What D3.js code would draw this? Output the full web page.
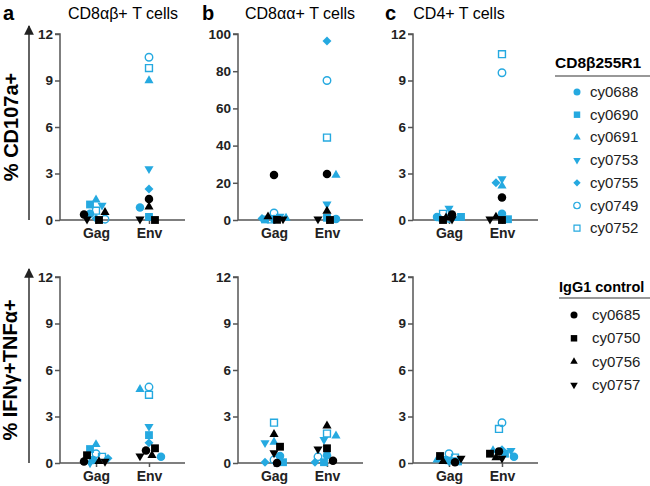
<!DOCTYPE html>
<html><head><meta charset="utf-8">
<script src="https://cdn.jsdelivr.net/npm/d3@7"></script>
<style>body{margin:0;background:#fff}svg{display:block;font-family:"Liberation Sans",Arial,sans-serif}</style>
</head><body><svg id="c" width="650" height="486"></svg>
<script>
// ---------------- data ----------------
const groups = ["Gag", "Env"];
const animals = ["cy0688","cy0690","cy0691","cy0753","cy0755","cy0749","cy0752","cy0685","cy0750","cy0756","cy0757"];
const cohorts = ["CD8β255R1","CD8β255R1","CD8β255R1","CD8β255R1","CD8β255R1","CD8β255R1","CD8β255R1","IgG1 control","IgG1 control","IgG1 control","IgG1 control"];
const shapes = ["circle","square","triangle","down","diamond","circle","square","circle","square","triangle","down"];
const open = [false,false,false,false,false,true,true,false,false,false,false];
const cohortNames = ["CD8β255R1","IgG1 control"];
const panelTitles = ["CD8αβ+ T cells","CD8αα+ T cells","CD4+ T cells"];
const panelLetters = ["a","b","c"];
const rowLabels = ["% CD107a+","% IFNγ+TNFα+"];
const ticksSmall = [0,3,6,9,12];
const ticksLarge = [0,20,40,60,80,100];

// CD107a+ (top row)
const cd107_ab_gag = [0.4, 1.0, 1.3, 0.95, 0.1, 0.05, 0.6, 0.35, 0.0, 0.5, 0.05];
const cd107_ab_env = [0.8, 0.2, 9.0, 3.3, 2.0, 10.5, 9.8, 1.35, 0.0, 0.85, 0.05];
const cd107_aa_gag = [0.5, 0.3, 1.0, 2.0, 0.8, 3.8, 0.3, 24.2, 0.1, 1.8, 0.5];
const cd107_aa_env = [0.5, 1.2, 24.2, 8.5, 96.2, 75, 44.3, 24.7, 0.0, 4.8, 0.5];
const cd107_cd4_gag = [0.2, 0.2, 0.1, 0.75, 0.1, 0.1, 0.4, 0.35, 0.0, 0.15, 0.05];
const cd107_cd4_env = [0.4, 0.05, 2.2, 2.65, 2.4, 9.5, 10.7, 1.45, 0.0, 0.2, 0.05];
// IFNg+TNFa+ (bottom row)
const ifn_ab_gag = [0.2, 0.9, 1.2, 0.0, 0.3, 0.6, 0.4, 0.1, 0.5, 0.1, 0.1];
const ifn_ab_env = [0.4, 1.8, 4.75, 2.35, 1.3, 4.9, 4.4, 0.8, 0.95, 0.5, 0.45];
const ifn_aa_gag = [0.45, 0.05, 1.35, 1.3, 0.05, 0.2, 2.6, 0.0, 1.05, 1.85, 0.65];
const ifn_aa_env = [0.5, 0.05, 1.75, 1.5, 0.05, 0.4, 1.9, 0.15, 0.95, 2.4, 0.9];
const ifn_cd4_gag = [0.2, 0.1, 0.2, 0.2, 0.1, 0.6, 0.35, 0.05, 0.45, 0.1, 0.3];
const ifn_cd4_env = [0.4, 0.6, 0.8, 0.8, 0.85, 2.6, 2.2, 0.75, 0.6, 0.35, 0.3];

const panels = [
  {row:0,col:0,max:12,ticks:ticksSmall,gag:cd107_ab_gag,env:cd107_ab_env},
  {row:0,col:1,max:100,ticks:ticksLarge,gag:cd107_aa_gag,env:cd107_aa_env},
  {row:0,col:2,max:12,ticks:ticksSmall,gag:cd107_cd4_gag,env:cd107_cd4_env},
  {row:1,col:0,max:12,ticks:ticksSmall,gag:ifn_ab_gag,env:ifn_ab_env},
  {row:1,col:1,max:12,ticks:ticksSmall,gag:ifn_aa_gag,env:ifn_aa_env},
  {row:1,col:2,max:12,ticks:ticksSmall,gag:ifn_cd4_gag,env:ifn_cd4_env}
];

// ---------------- layout ----------------
const CYAN = "#25A9E0", AXIS = "#555";
const colX = [60, 238, 413], plotW = 125;
const letterX = [3, 202, 385], titleX = [123, 300, 459];
const rowY = [[34, 220], [277, 463]];
const svg = d3.select("#c");

function symPath(shape, s) {
  if (shape === "circle") return d3.symbol(d3.symbolCircle, s * s * Math.PI / 4)();
  if (shape === "square") return d3.symbol(d3.symbolSquare, s * s * 0.85)();
  if (shape === "diamond") return d3.symbol(d3.symbolSquare, s * s * 0.55)();
  return d3.symbol(d3.symbolTriangle, s * s * 0.5)();
}
function symTransform(shape) {
  if (shape === "down") return " rotate(180)";
  if (shape === "diamond") return " rotate(45)";
  return "";
}

// deterministic column-scatter layout (spreads overlapping points sideways)
function swarm(ys) {
  const order = ys.map((py, i) => ({py, i})).sort((a, b) => a.py - b.py || a.i - b.i);
  const D = 6.5, cands = [0, 3, -3, 6, -6, 9, -9, 12, -12];
  const placed = [], out = new Array(ys.length).fill(0);
  order.forEach((pt, k) => {
    const cs = k % 2 ? cands.map(c => -c) : cands;
    let best = 0, bestD = -1;
    for (const c of cs) {
      const md = placed.length ? d3.min(placed, q => Math.hypot(q.dx - c, q.py - pt.py)) : Infinity;
      if (md >= D) { best = c; bestD = Infinity; break; }
      if (md > bestD) { bestD = md; best = c; }
    }
    pt.dx = best; placed.push(pt); out[pt.i] = best;
  });
  return out;
}

panels.forEach(p => {
  const x0 = colX[p.col], [yt, yb] = rowY[p.row];
  const x = d3.scalePoint().domain(groups).range([x0, x0 + plotW]).padding(0.68);
  const y = d3.scaleLinear().domain([0, p.max]).range([yb, yt]);
  const g = svg.append("g");

  // y axis
  const ya = g.append("g").attr("transform", `translate(${x0},0)`)
    .call(d3.axisLeft(y).tickValues(p.ticks).tickSize(5).tickPadding(2));
  ya.select(".domain").attr("stroke", AXIS).attr("stroke-width", 1.5).attr("d", `M-5,${yt}H0V${yb}`);
  ya.selectAll(".tick line").attr("stroke", AXIS).attr("stroke-width", 1.5);
  ya.selectAll(".tick text").attr("fill", "#222").style("font-size", "13.5px").style("font-weight", "bold")
    .style("font-family", "Liberation Sans, Arial, sans-serif");
  // x axis
  const xa = g.append("g").attr("transform", `translate(0,${yb})`)
    .call(d3.axisBottom(x).tickSize(4).tickPadding(4));
  xa.select(".domain").attr("stroke", AXIS).attr("stroke-width", 1.5).attr("d", `M${x0},0H${x0 + plotW}`);
  xa.selectAll(".tick line").attr("stroke", AXIS).attr("stroke-width", 1.5);
  xa.selectAll(".tick text").attr("fill", "#222").style("font-size", "14px").style("font-weight", "bold")
    .style("font-family", "Liberation Sans, Arial, sans-serif");

  groups.forEach(grp => {
    const vals = grp === "Gag" ? p.gag : p.env;
    const ys = vals.map(v => y(v));
    const dx = swarm(ys);
    vals.forEach((v, i) => {
      const col = cohorts[i] === cohortNames[0] ? CYAN : "#000";
      g.append("path")
        .attr("d", symPath(shapes[i], open[i] ? 7.5 : 8.5))
        .attr("transform", `translate(${x(grp) + dx[i]},${ys[i]})` + symTransform(shapes[i]))
        .attr("fill", open[i] ? "none" : col)
        .attr("stroke", open[i] ? col : "none")
        .attr("stroke-width", 1.4);
    });
  });

  if (p.row === 0) {
    svg.append("text").attr("x", letterX[p.col]).attr("y", 20).text(panelLetters[p.col])
      .style("font-size", "20px").style("font-weight", "bold");
    svg.append("text").attr("x", titleX[p.col]).attr("y", 19).attr("text-anchor", "middle")
      .text(panelTitles[p.col]).style("font-size", "16px");
  }
});

// row labels with arrows
svg.append("defs").append("marker").attr("id", "ah").attr("viewBox", "0 0 10 10")
  .attr("refX", 9).attr("refY", 5).attr("markerWidth", 7).attr("markerHeight", 7).attr("orient", "auto")
  .append("path").attr("d", "M0,0L10,5L0,10Z").attr("fill", "#222");
rowLabels.forEach((lab, r) => {
  const [yt, yb] = rowY[r];
  svg.append("line").attr("x1", 29).attr("x2", 29).attr("y1", yb).attr("y2", yt - 8)
    .attr("stroke", "#222").attr("stroke-width", 1.4).attr("marker-end", "url(#ah)");
  svg.append("text").attr("transform", `translate(${r === 0 ? 18 : 17},${(yt + yb) / 2}) rotate(-90)`)
    .attr("text-anchor", "middle").text(lab)
    .style("font-size", "20px").style("font-weight", "bold");
});

// legends
const legs = [
  {name: cohortNames[0], hx: 555, hy: 68, ly: 76, sx: 577, tx: 590, y0: 92, dy: 22.7, fs: 15.5},
  {name: cohortNames[1], hx: 559, hy: 292, ly: 298, sx: 574, tx: 592, y0: 315, dy: 23.3, fs: 14.5}
];
legs.forEach(L => {
  svg.append("text").attr("x", L.hx).attr("y", L.hy).text(L.name)
    .style("font-size", L.fs + "px").style("font-weight", "bold");
  svg.append("line").attr("x1", L.hx).attr("x2", 650).attr("y1", L.ly).attr("y2", L.ly)
    .attr("stroke", "#333").attr("stroke-width", 1.2);
  const idx = animals.map((a, i) => i).filter(i => cohorts[i] === L.name);
  idx.forEach((i, k) => {
    const yy = L.y0 + k * L.dy, col = cohorts[i] === cohortNames[0] ? CYAN : "#000";
    svg.append("path").attr("d", symPath(shapes[i], open[i] ? 6.5 : 7))
      .attr("transform", `translate(${L.sx},${yy})` + symTransform(shapes[i]))
      .attr("fill", open[i] ? "none" : col).attr("stroke", open[i] ? col : "none").attr("stroke-width", 1.2);
    svg.append("text").attr("x", L.tx).attr("y", yy + 5).text(animals[i]).style("font-size", "15px").attr("fill", "#222");
  });
});
</script></body></html>
